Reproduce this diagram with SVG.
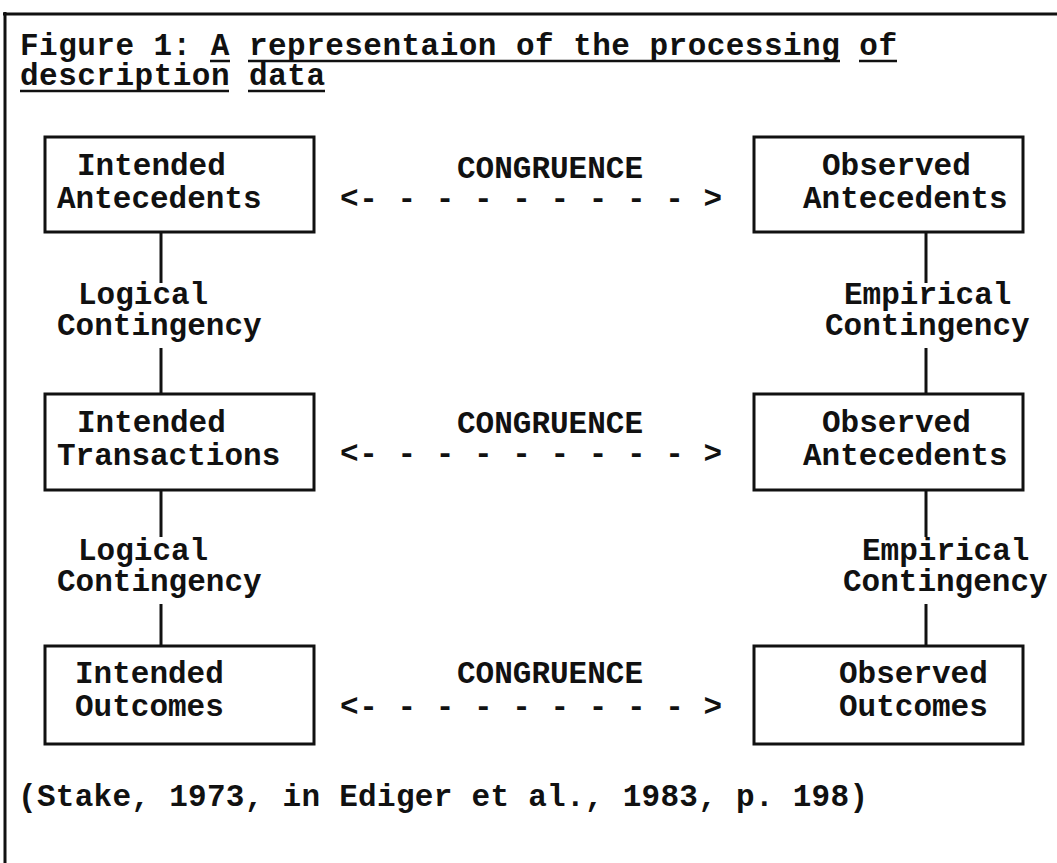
<svg xmlns="http://www.w3.org/2000/svg" width="1057" height="863" viewBox="0 0 1057 863">
<style>
text{font-family:"Liberation Mono","Courier New",monospace;font-weight:bold;font-size:31px;fill:#111}
.box{fill:#fff;stroke:#111;stroke-width:3}
.ln{stroke:#111;stroke-width:3;fill:none}
.ul{stroke:#111;stroke-width:2.5}
</style>
<rect width="1057" height="863" fill="#fff"/>
<g id="frame">
<line class="ln" x1="3" y1="14" x2="1057" y2="14" stroke-width="4"/>
<line class="ln" x1="5" y1="12" x2="5" y2="863"/>
</g>
<g id="title">
<text x="20" y="55" textLength="877" lengthAdjust="spacing">Figure 1: A representaion of the processing of</text>
<text x="20" y="85" textLength="305" lengthAdjust="spacing">description data</text>
<line class="ul" x1="210" y1="61" x2="230" y2="61"/>
<line class="ul" x1="248" y1="61" x2="840" y2="61"/>
<line class="ul" x1="859" y1="61" x2="897" y2="61"/>
<line class="ul" x1="20" y1="91" x2="229" y2="91"/>
<line class="ul" x1="248" y1="91" x2="325" y2="91"/>
</g>
<g id="connectors">
<line class="ln" x1="161" y1="232" x2="161" y2="283"/>
<line class="ln" x1="161" y1="348" x2="161" y2="394"/>
<line class="ln" x1="161" y1="490" x2="161" y2="537"/>
<line class="ln" x1="161" y1="604" x2="161" y2="646"/>
<line class="ln" x1="926" y1="232" x2="926" y2="283"/>
<line class="ln" x1="926" y1="348" x2="926" y2="394"/>
<line class="ln" x1="926" y1="490" x2="926" y2="537"/>
<line class="ln" x1="926" y1="604" x2="926" y2="646"/>
<text x="78" y="304">Logical</text>
<text x="57" y="335">Contingency</text>
<text x="78" y="560">Logical</text>
<text x="57" y="591">Contingency</text>
<text x="844" y="304">Empirical</text>
<text x="825" y="335">Contingency</text>
<text x="862" y="560">Empirical</text>
<text x="843" y="591">Contingency</text>
<text x="457" y="178">CONGRUENCE</text>
<text x="340" y="208" textLength="382" lengthAdjust="spacing">&lt;- - - - - - - - - &gt;</text>
<text x="457" y="433">CONGRUENCE</text>
<text x="340" y="463" textLength="382" lengthAdjust="spacing">&lt;- - - - - - - - - &gt;</text>
<text x="457" y="683">CONGRUENCE</text>
<text x="340" y="716" textLength="382" lengthAdjust="spacing">&lt;- - - - - - - - - &gt;</text>
</g>
<g id="intended-antecedents">
<rect class="box" x="45" y="137" width="269" height="95"/>
<text x="77" y="175">Intended</text>
<text x="57" y="208">Antecedents</text>
</g>
<g id="observed-antecedents-1">
<rect class="box" x="754" y="137" width="269" height="95"/>
<text x="822" y="175">Observed</text>
<text x="803" y="208">Antecedents</text>
</g>
<g id="intended-transactions">
<rect class="box" x="45" y="394" width="269" height="96"/>
<text x="77" y="432">Intended</text>
<text x="57" y="465">Transactions</text>
</g>
<g id="observed-antecedents-2">
<rect class="box" x="754" y="394" width="269" height="96"/>
<text x="822" y="432">Observed</text>
<text x="803" y="465">Antecedents</text>
</g>
<g id="intended-outcomes">
<rect class="box" x="45" y="646" width="269" height="98"/>
<text x="75" y="683">Intended</text>
<text x="75" y="716">Outcomes</text>
</g>
<g id="observed-outcomes">
<rect class="box" x="754" y="646" width="269" height="98"/>
<text x="839" y="683">Observed</text>
<text x="839" y="716">Outcomes</text>
</g>
<g id="citation">
<text x="18" y="806" textLength="850" lengthAdjust="spacing">(Stake, 1973, in Ediger et al., 1983, p. 198)</text>
</g>
</svg>
